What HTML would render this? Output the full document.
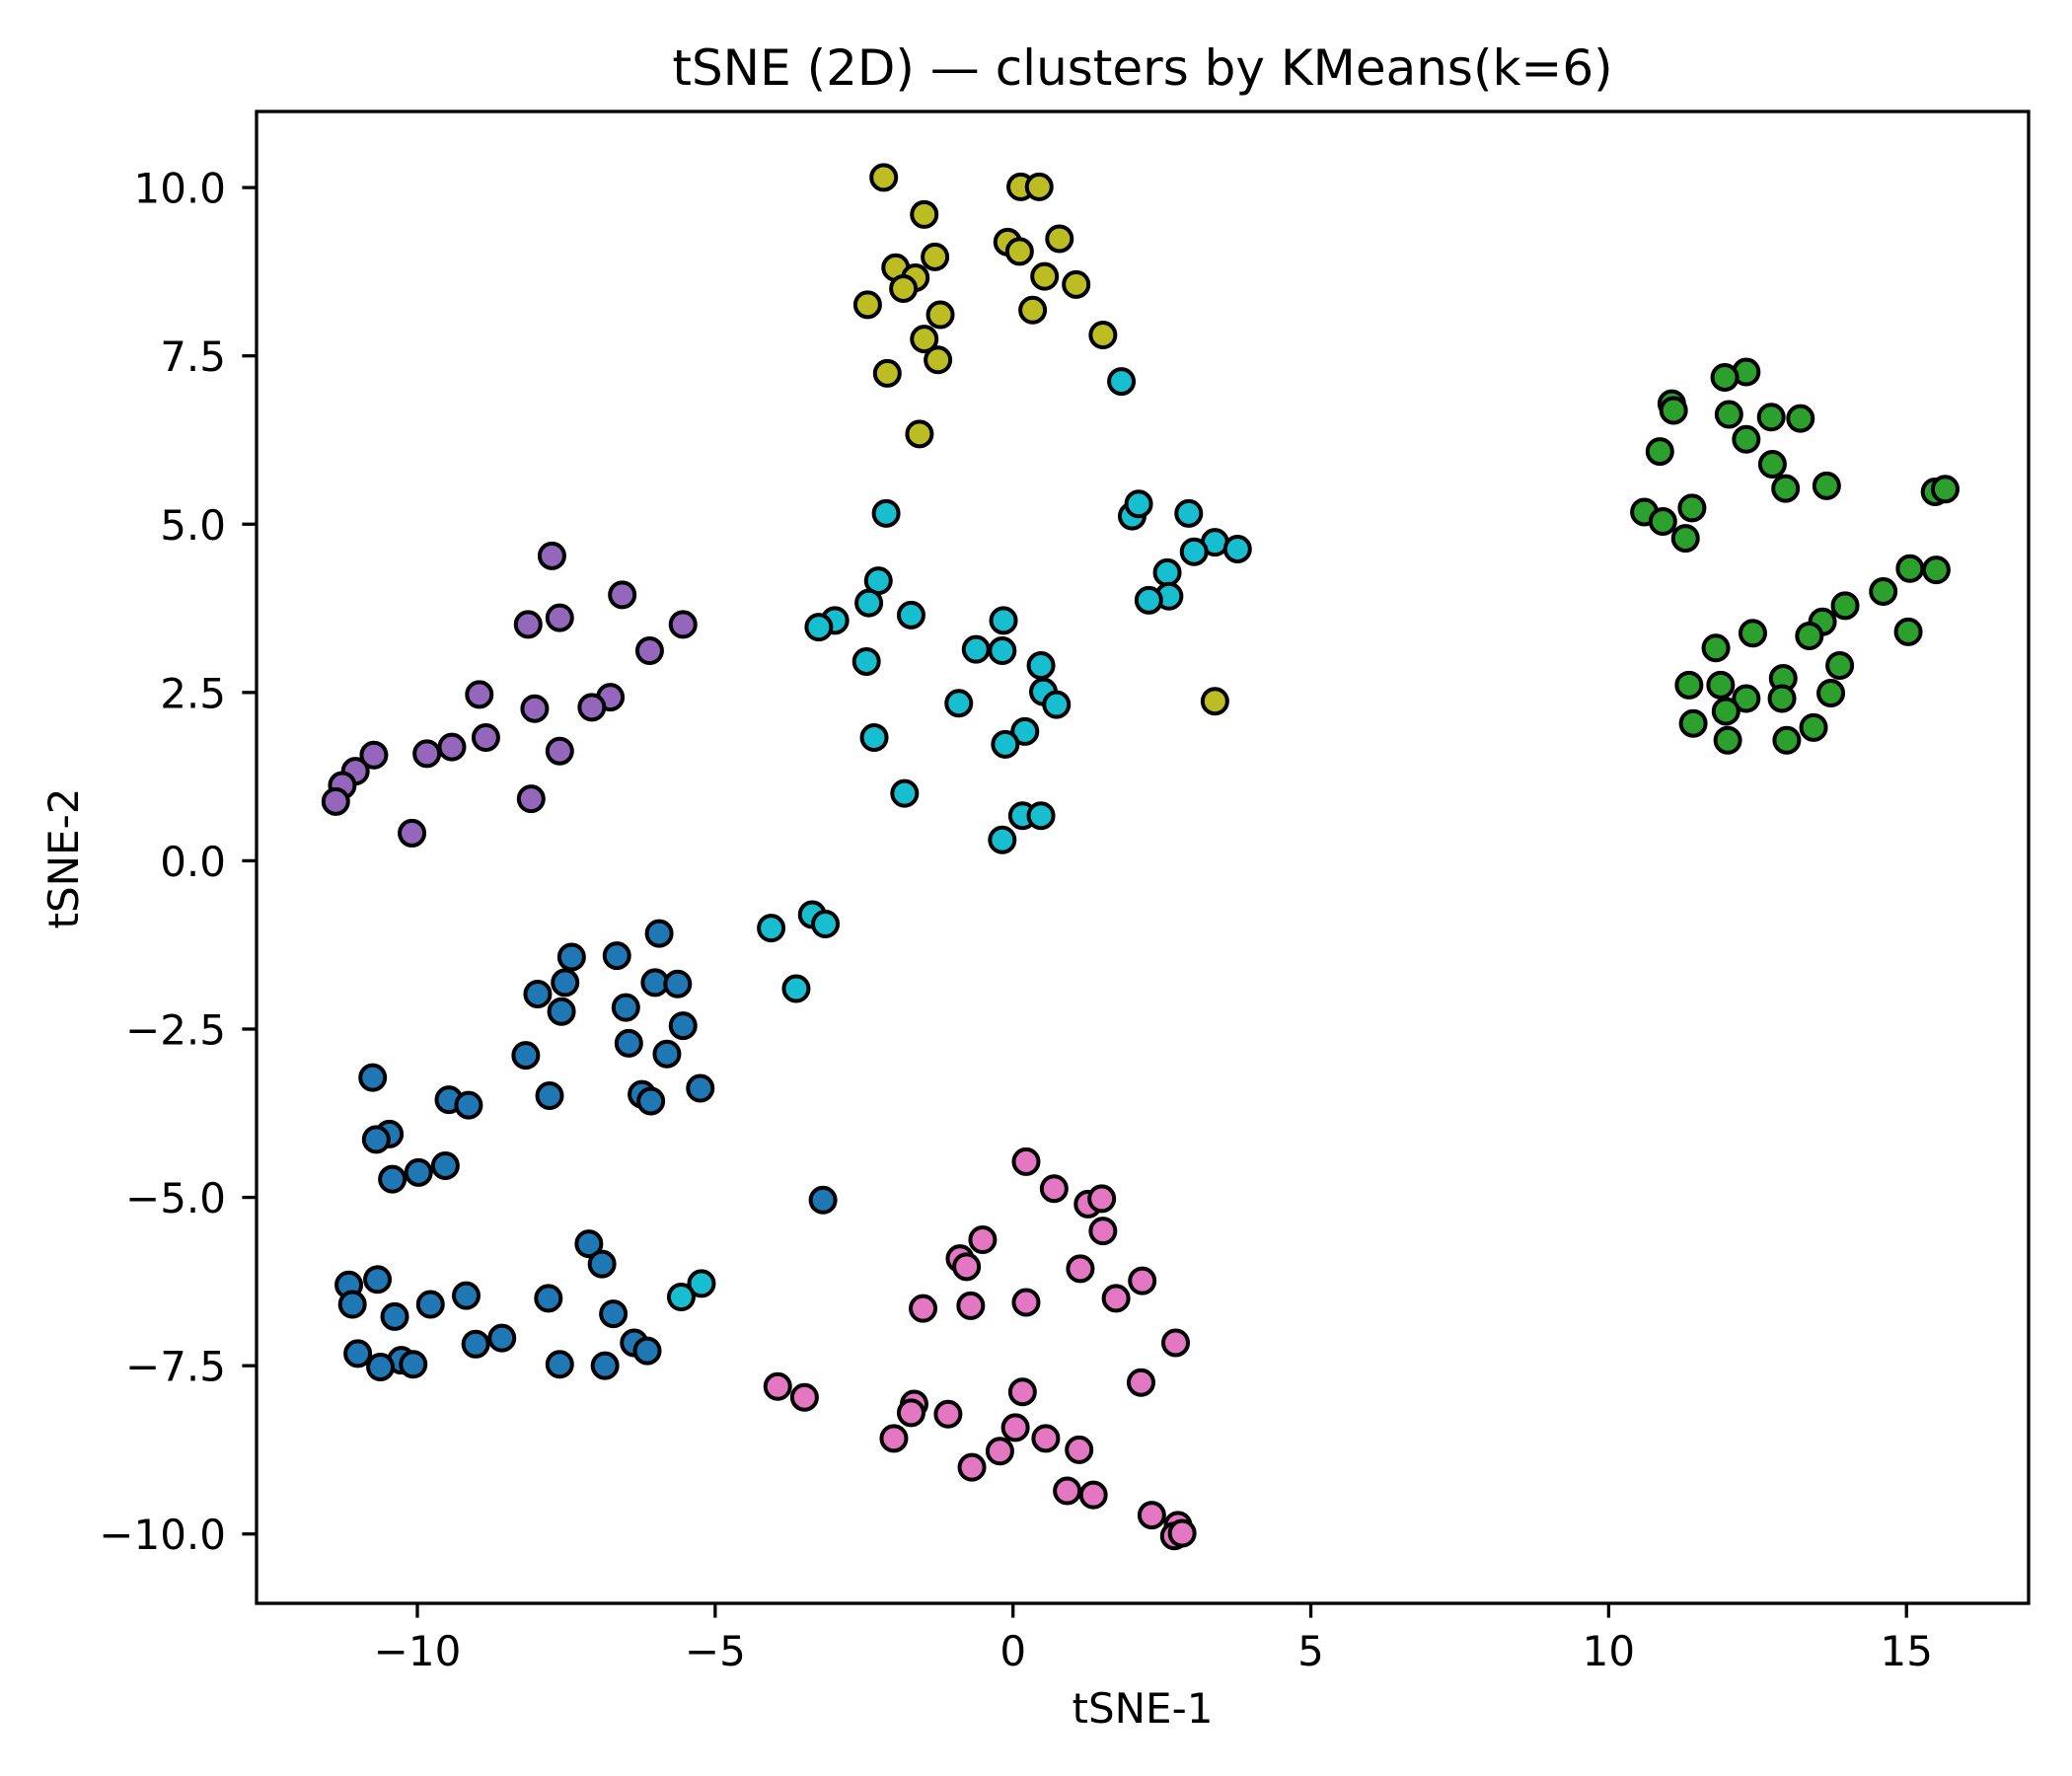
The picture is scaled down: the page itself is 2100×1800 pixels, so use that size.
<!DOCTYPE html>
<html><head><meta charset="utf-8"><style>
html,body{margin:0;padding:0;background:#fff;}
svg{display:block;font-family:"DejaVu Sans","Liberation Sans",sans-serif;}
</style></head><body>
<svg id="chart" width="2100" height="1800" viewBox="0 0 2100 1800" xmlns="http://www.w3.org/2000/svg">
<rect x="0" y="0" width="2100" height="1800" fill="#fff"/>
<g id="points"></g>
<g id="axes"></g>
<text x="1158" y="86" font-size="50" text-anchor="middle">tSNE (2D) — clusters by KMeans(k=6)</text>
<text x="1158" y="1746" font-size="42" text-anchor="middle">tSNE-1</text>
<text x="0" y="0" font-size="42" text-anchor="middle" transform="translate(79,870) rotate(-90)">tSNE-2</text>
</svg>
<script>
const clusterNames = ['cluster-blue','cluster-purple','cluster-olive','cluster-cyan','cluster-pink','cluster-green'];
const clusterColors = ['#1f77b4','#9467bd','#bcbd22','#17becf','#e377c2','#2ca02c'];
const xTicks = [-10,-5,0,5,10,15];
const xTickLabels = ['\u221210','\u22125','0','5','10','15'];
const yTicks = [10,7.5,5,2.5,0,-2.5,-5,-7.5,-10];
const yTickLabels = ['10.0','7.5','5.0','2.5','0.0','\u22122.5','\u22125.0','\u22127.5','\u221210.0'];
const blueX = [-5.94,-7.41,-6.65,-6.01,-5.63,-7.52,-7.98,-6.50,-7.58,-5.54,-6.45,-5.81,-8.18,-10.75,-7.78,-5.25,-6.23,-6.08,-9.47,-9.14,-10.47,-10.69,-9.98,-10.42,-9.53,-3.19,-7.12,-6.90,-11.15,-10.67,-11.09,-9.78,-9.18,-7.80,-6.71,-10.38,-6.36,-9.02,-8.58,-11.00,-10.27,-6.14,-10.62,-10.07,-7.61,-6.85];
const blueY = [-1.08,-1.43,-1.41,-1.81,-1.83,-1.81,-1.98,-2.18,-2.24,-2.45,-2.71,-2.87,-2.89,-3.22,-3.49,-3.38,-3.47,-3.57,-3.55,-3.63,-4.06,-4.14,-4.63,-4.73,-4.53,-5.04,-5.69,-5.99,-6.30,-6.22,-6.59,-6.59,-6.46,-6.50,-6.73,-6.77,-7.16,-7.18,-7.09,-7.32,-7.42,-7.28,-7.52,-7.48,-7.48,-7.50];
const purpleX = [-7.74,-6.56,-7.61,-5.54,-8.14,-6.10,-8.96,-6.76,-7.07,-8.03,-8.85,-9.42,-9.84,-7.61,-10.73,-11.04,-11.26,-11.37,-8.09,-10.09];
const purpleY = [4.53,3.95,3.61,3.51,3.51,3.12,2.47,2.43,2.28,2.26,1.83,1.69,1.59,1.63,1.57,1.33,1.12,0.88,0.92,0.41];
const oliveX = [-2.17,0.13,0.44,-1.49,-0.09,0.78,0.11,-1.97,-1.31,-1.64,-1.84,0.53,1.06,-2.44,-1.22,0.33,-1.49,1.51,-1.26,-2.11,-1.57,3.39];
const oliveY = [10.15,10.01,10.01,9.60,9.19,9.24,9.05,8.81,8.97,8.66,8.50,8.68,8.56,8.26,8.11,8.18,7.75,7.81,7.44,7.24,6.34,2.37];
const cyanX = [1.82,-2.13,2.00,2.11,2.95,3.39,3.77,3.04,2.59,-2.26,2.62,2.28,-2.42,-1.71,-2.99,-3.26,-0.16,-2.46,-0.62,-0.18,0.47,0.51,-0.91,0.73,0.20,-0.13,-2.33,-1.82,0.16,0.47,-0.18,-3.37,-3.15,-4.06,-3.64,-5.23,-5.57];
const cyanY = [7.12,5.16,5.12,5.30,5.16,4.73,4.63,4.59,4.28,4.16,3.93,3.87,3.83,3.65,3.57,3.47,3.57,2.96,3.14,3.12,2.90,2.51,2.34,2.32,1.92,1.73,1.83,1.00,0.67,0.67,0.31,-0.80,-0.94,-1.00,-1.90,-6.28,-6.48];
const pinkX = [0.22,0.69,1.26,1.49,1.51,-0.51,-0.89,-0.78,1.13,2.17,1.73,0.22,-1.51,-0.71,2.73,2.15,-3.95,-3.50,0.16,-1.66,-1.71,-1.09,0.04,0.55,-2.00,-0.22,1.11,-0.69,0.91,1.35,2.33,2.77,2.71,2.84];
const pinkY = [-4.47,-4.87,-5.10,-5.02,-5.50,-5.63,-5.91,-6.03,-6.06,-6.24,-6.50,-6.56,-6.65,-6.61,-7.16,-7.75,-7.81,-7.97,-7.89,-8.07,-8.20,-8.22,-8.42,-8.58,-8.58,-8.77,-8.75,-9.01,-9.36,-9.42,-9.72,-9.87,-10.03,-9.99];
const greenX = [12.31,11.95,11.06,11.09,12.02,12.73,13.22,12.31,10.86,12.75,12.97,13.66,15.48,15.65,10.60,10.91,11.40,11.29,15.06,15.50,14.61,13.97,13.59,15.03,13.37,12.42,11.80,13.88,11.35,12.93,11.88,12.31,12.91,11.97,13.73,11.42,13.44,12.00,12.99];
const greenY = [7.26,7.18,6.79,6.69,6.63,6.59,6.57,6.26,6.08,5.89,5.53,5.57,5.48,5.52,5.18,5.04,5.24,4.79,4.34,4.32,4.00,3.79,3.55,3.40,3.34,3.38,3.16,2.90,2.61,2.71,2.61,2.41,2.41,2.22,2.49,2.04,1.98,1.79,1.79];

const NS='http://www.w3.org/2000/svg';
const AX={l:260,r:2056,t:113,b:1625};
const XMIN=-12.70, XMAX=17.05, YMIN=-11.03, YMAX=11.13;
function sx(v){return AX.l+(v-XMIN)/(XMAX-XMIN)*(AX.r-AX.l);}
function sy(v){return AX.b-(v-YMIN)/(YMAX-YMIN)*(AX.b-AX.t);}
function mk(tag,attrs){const e=document.createElementNS(NS,tag);for(const k in attrs)e.setAttribute(k,attrs[k]);return e;}

const pts=document.getElementById('points');
const seriesX=[blueX,purpleX,oliveX,cyanX,pinkX,greenX];
const seriesY=[blueY,purpleY,oliveY,cyanY,pinkY,greenY];
for(let s=0;s<seriesX.length;s++){
  const g=mk('g',{});
  
  
  for(let i=0;i<seriesX[s].length;i++){
    const c=mk('circle',{cx:sx(seriesX[s][i]),cy:sy(seriesY[s][i]),r:12.5,fill:clusterColors[s],stroke:'#000','stroke-width':4});
    
    
    g.appendChild(c);
  }
  pts.appendChild(g);
}

const axes=document.getElementById('axes');
const frame=mk('rect',{x:AX.l,y:AX.t,width:AX.r-AX.l,height:AX.b-AX.t,fill:'none',stroke:'#000','stroke-width':3.3});


axes.appendChild(frame);
for(let i=0;i<xTicks.length;i++){
  const x=sx(xTicks[i]);
  const t=mk('line',{x1:x,x2:x,y1:AX.b,y2:AX.b+14.6,stroke:'#000','stroke-width':3.3});
  
  
  axes.appendChild(t);
  const l=mk('text',{x:x,y:1688,'font-size':42,'text-anchor':'middle'});
  l.textContent=xTickLabels[i];
  
  
  axes.appendChild(l);
}
for(let i=0;i<yTicks.length;i++){
  const y=sy(yTicks[i]);
  const t=mk('line',{x1:AX.l-14.6,x2:AX.l,y1:y,y2:y,stroke:'#000','stroke-width':3.3});
  
  
  axes.appendChild(t);
  const l=mk('text',{x:229,y:y+15.5,'font-size':42,'text-anchor':'end'});
  l.textContent=yTickLabels[i];
  
  
  axes.appendChild(l);
}
</script>
</body></html>
